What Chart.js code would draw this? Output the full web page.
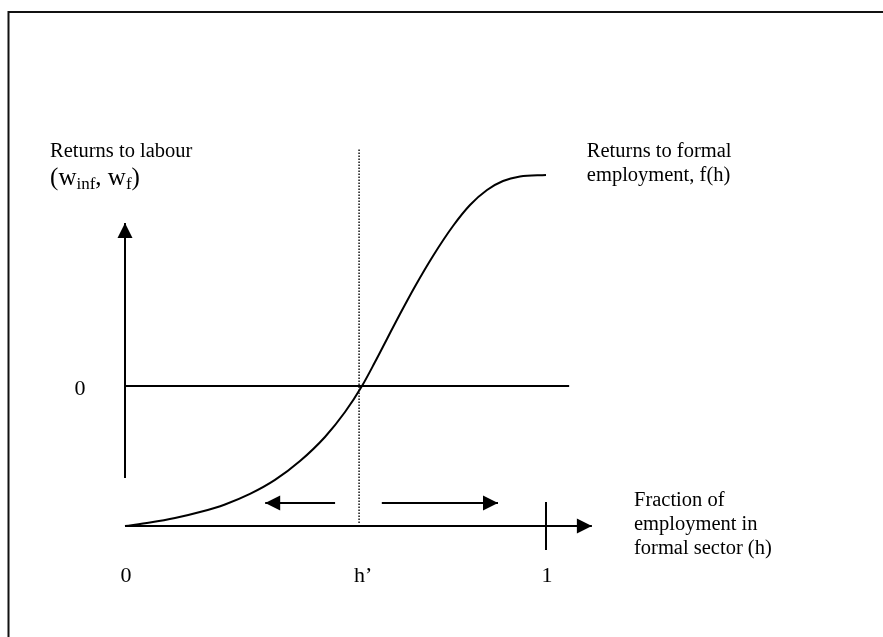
<!DOCTYPE html>
<html>
<head>
<meta charset="utf-8">
<script src="https://cdn.jsdelivr.net/npm/chart.js@4.4.1/dist/chart.umd.min.js"></script>
<style>
    html, body { margin: 0; padding: 0; background: #fff; }
    canvas { display: block; }
</style>
</head>
<body>
<canvas id="diagram" width="883" height="637"></canvas>
<script>
// Fraction of employment in the formal sector (h) and returns f(h)
const hValues = [0, 0.0594, 0.1188, 0.1781, 0.2375, 0.2969, 0.3563, 0.4157, 0.475, 0.5226, 0.5629, 0.5938, 0.6223, 0.6532, 0.6888, 0.7316, 0.7791, 0.8195, 0.8599, 0.8979, 0.9382, 1];
const formalReturns = [-1, -0.975, -0.943, -0.9, -0.846, -0.771, -0.671, -0.536, -0.364, -0.186, 0, 0.171, 0.336, 0.514, 0.711, 0.929, 1.143, 1.293, 1.4, 1.464, 1.496, 1.507];

// threshold h' and the x-axis tick labels
const hPrime = 0.556;
const tickLabels = ['0', 'h\u2019', '1'];
const tickValues = [0, hPrime, 1];

// axis extents (data units)
const xAxisEnd = 1.109;
const zeroLineEnd = 1.055;
const yAxisTop = 1.164;
const yAxisBottom = -0.657;
const baseLevel = -1;

const INK = '#000';
const SERIF = '"Liberation Serif", "Times New Roman", serif';

function seg(x1, y1, x2, y2) {
    return [{ x: x1, y: y1 }, { x: x2, y: y2 }];
}

function lineSet(data, extra) {
    return Object.assign({
        data: data,
        borderColor: INK,
        borderWidth: 2,
        pointRadius: 0,
        fill: false,
        showLine: true
    }, extra || {});
}

// text placed at data coordinates
const textLabels = [
    { x: -0.178, y: 1.636, parts: [{ t: 'Returns to labour' }] },
    { x: -0.178, y: 1.436, size: 25, parts: [{ t: '(w' }, { t: 'inf', sub: true }, { t: ', w' }, { t: 'f', sub: true }, { t: ')' }] },
    { x: 1.097, y: 1.636, parts: [{ t: 'Returns to formal' }] },
    { x: 1.097, y: 1.464, parts: [{ t: 'employment, f(h)' }] },
    { x: 1.209, y: -0.857, parts: [{ t: 'Fraction of' }] },
    { x: 1.209, y: -1.029, parts: [{ t: 'employment in' }] },
    { x: 1.209, y: -1.2, parts: [{ t: 'formal sector (h)' }] },
    { x: -0.107, y: -0.064, align: 'center', size: 22, parts: [{ t: '0' }] }
];

const frameAndText = {
    id: 'frameAndText',
    afterDraw(chart) {
        const ctx = chart.ctx;
        const xs = chart.scales.x, ys = chart.scales.y;
        ctx.save();
        // outer frame, only left and top edges visible
        ctx.strokeStyle = '#111';
        ctx.lineWidth = 2;
        ctx.beginPath();
        ctx.moveTo(8.5, chart.height);
        ctx.lineTo(8.5, 12);
        ctx.lineTo(chart.width, 12);
        ctx.stroke();

        ctx.fillStyle = INK;
        ctx.textBaseline = 'alphabetic';
        textLabels.forEach(lbl => {
            const size = lbl.size || 20.5;
            const subSize = Math.round(size * 0.68);
            let widths = lbl.parts.map(p => {
                ctx.font = (p.sub ? subSize : size) + 'px ' + SERIF;
                return ctx.measureText(p.t).width;
            });
            const total = widths.reduce((a, b) => a + b, 0);
            let px = xs.getPixelForValue(lbl.x);
            if (lbl.align === 'center') px -= total / 2;
            const py = ys.getPixelForValue(lbl.y);
            lbl.parts.forEach((p, i) => {
                ctx.font = (p.sub ? subSize : size) + 'px ' + SERIF;
                ctx.textAlign = 'left';
                ctx.fillText(p.t, px, p.sub ? py + 4 : py);
                px += widths[i];
            });
        });

        // tick labels under the h axis
        ctx.font = '22px ' + SERIF;
        ctx.textAlign = 'center';
        tickLabels.forEach((t, i) => {
            const off = t.length > 1 ? 4 : 1;
            ctx.fillText(t, xs.getPixelForValue(tickValues[i]) + off, ys.getPixelForValue(-1.4));
        });
        ctx.restore();
    }
};

// filled arrowheads at the last point of flagged datasets
const arrowHeads = {
    id: 'arrowHeads',
    afterDatasetsDraw(chart) {
        const ctx = chart.ctx;
        chart.data.datasets.forEach((ds, i) => {
            if (!ds.arrow) return;
            const pts = chart.getDatasetMeta(i).data;
            const a = pts[pts.length - 2], b = pts[pts.length - 1];
            const ang = Math.atan2(b.y - a.y, b.x - a.x);
            const len = 15, half = 7.5;
            ctx.save();
            ctx.translate(b.x, b.y);
            ctx.rotate(ang);
            ctx.fillStyle = INK;
            ctx.beginPath();
            ctx.moveTo(0, 0);
            ctx.lineTo(-len, -half);
            ctx.lineTo(-len, half);
            ctx.closePath();
            ctx.fill();
            ctx.restore();
        });
    }
};

new Chart(document.getElementById('diagram').getContext('2d'), {
    type: 'scatter',
    data: {
        datasets: [
            lineSet(hValues.map((h, i) => ({ x: h, y: formalReturns[i] })), { cubicInterpolationMode: 'monotone' }),
            lineSet(seg(0, yAxisBottom, 0, yAxisTop), { arrow: true }),
            lineSet(seg(0, 0, zeroLineEnd, 0)),
            lineSet(seg(0, baseLevel, xAxisEnd, baseLevel), { arrow: true }),
            lineSet(seg(1, -0.829, 1, -1.171)),
            lineSet(seg(hPrime, -0.979, hPrime, 1.7), { borderWidth: 1.4, borderDash: [1.5, 1.5] }),
            lineSet(seg(0.499, -0.836, 0.333, -0.836), { arrow: true }),
            lineSet(seg(0.61, -0.836, 0.886, -0.836), { arrow: true })
        ]
    },
    options: {
        responsive: false,
        devicePixelRatio: 1,
        animation: false,
        layout: { padding: 0 },
        plugins: { legend: { display: false }, tooltip: { enabled: false } },
        scales: {
            x: { type: 'linear', display: false, min: -0.29691, max: 1.80048 },
            y: { type: 'linear', display: false, min: -1.79286, max: 2.75714 }
        }
    },
    plugins: [arrowHeads, frameAndText]
});
</script>
</body>
</html>
